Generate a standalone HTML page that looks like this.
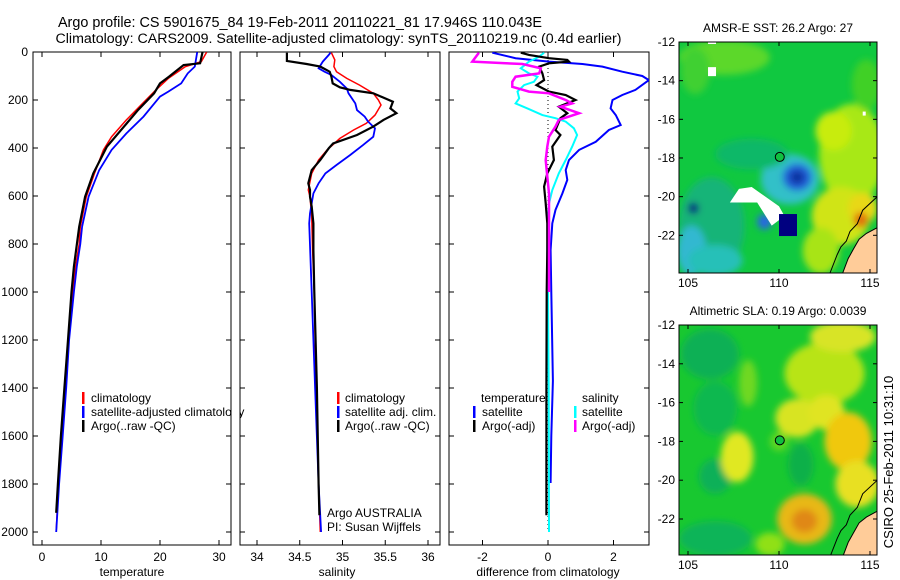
<!DOCTYPE html>
<html><head><meta charset="utf-8"><title>Argo profile</title>
<style>
html,body{margin:0;padding:0;background:#fff;}
svg{display:block;font-family:"Liberation Sans",sans-serif;}
text{fill:#000;}
</style></head>
<body>
<svg id="fig" width="900" height="580" viewBox="0 0 900 580" xmlns="http://www.w3.org/2000/svg">
<defs>
<filter id="blur3" x="-20%" y="-20%" width="140%" height="140%"><feGaussianBlur stdDeviation="3.5"/></filter>
<clipPath id="cp1"><rect x="33" y="52" width="198" height="493"/></clipPath>
<clipPath id="cp2"><rect x="240" y="52" width="200" height="493"/></clipPath>
<clipPath id="cp3"><rect x="449" y="52" width="200" height="493"/></clipPath>
<clipPath id="cpm1"><rect x="679" y="42" width="198" height="231"/></clipPath>
<clipPath id="cpm2"><rect x="679" y="325" width="198" height="230"/></clipPath>
</defs>
<text x="300" y="27" font-size="14.4" text-anchor="middle">Argo profile: CS 5901675_84 19-Feb-2011 20110221_81 17.946S 110.043E</text>
<text x="338.5" y="43" font-size="14.2" text-anchor="middle">Climatology: CARS2009. Satellite-adjusted climatology: synTS_20110219.nc (0.4d earlier)</text>
<g id="layer"></g>
<text transform="translate(893,462) rotate(-90)" font-size="13" text-anchor="middle">CSIRO 25-Feb-2011 10:31:10</text>
</svg>
<script>
// ---------- data ----------
const depthTicks=[0,200,400,600,800,1000,1200,1400,1600,1800,2000];
const tempTicks=[0,10,20,30];
const salTicks=[34,34.5,35,35.5,36];
const diffTicks=[-2,0,2];
// temperature panel
const tClimDepth=[1,40,61,110,158,228,283,353,408,506,603,728,800,894,1000,1200,1400,1600,1800,2000];
const tClimVal=[27.9,27.0,24.3,21.4,19.3,16.5,14.3,11.8,10.4,8.9,7.5,6.5,6.3,5.7,5.2,4.5,4.0,3.4,2.8,2.4];
const tSatDepth=[1,61,89,131,165,186,269,339,408,492,603,728,800,894,1000,1200,1400,1600,1800,2000];
const tSatVal=[26.3,25.9,24.7,23.6,21.4,20.0,17.2,14.3,11.8,9.7,7.9,6.8,6.5,5.9,5.4,4.6,4.1,3.5,2.9,2.4];
const tArgoDepth=[1,47,54,103,131,172,241,311,394,506,603,728,894,1000,1200,1400,1600,1800,1920];
const tArgoVal=[27.2,26.8,24.0,21.5,20.0,19.0,16.3,13.9,11.0,8.7,7.3,6.3,5.4,5.0,4.4,3.8,3.2,2.7,2.4];
// salinity panel
const sClimDepth=[3,33,61,82,110,138,172,200,221,263,297,325,360,408,450,506,575,603,686,825,1000,1400,1800,2000];
const sClimVal=[34.87,34.91,34.90,34.93,35.05,35.20,35.36,35.42,35.45,35.38,35.28,35.13,34.97,34.82,34.72,34.64,34.60,34.62,34.64,34.65,34.67,34.69,34.72,34.74];
const sSatDepth=[3,12,40,68,82,96,124,152,172,214,242,269,290,318,353,388,429,471,506,547,589,672,714,1000,1400,1800,2000];
const sSatVal=[34.86,34.84,34.77,34.72,34.79,34.87,34.97,35.05,35.07,35.15,35.17,35.26,35.30,35.38,35.36,35.24,35.09,34.93,34.80,34.72,34.66,34.62,34.61,34.64,34.68,34.72,34.75];
const sArgoDepth=[3,37,50,61,82,103,131,147,158,172,207,235,255,283,311,346,381,401,450,492,547,575,603,644,714,825,1000,1400,1800,1930];
const sArgoVal=[34.35,34.35,34.58,34.74,34.85,34.87,34.885,34.97,35.09,35.36,35.59,35.56,35.63,35.48,35.36,35.17,34.89,34.84,34.74,34.64,34.60,34.62,34.62,34.64,34.66,34.66,34.67,34.70,34.72,34.73];
// difference panel
const dTSatDepth=[3,26,40,50,61,82,100,117,158,179,200,235,263,304,325,374,408,450,492,533,589,658,714,825,1000,1370,1600,1796];
const dTSatVal=[-1.70,-0.99,0.03,1.05,1.66,2.27,2.88,3.08,2.67,2.27,1.97,1.91,2.07,2.22,1.86,1.46,0.95,0.64,0.54,0.59,0.44,0.23,0.13,0.08,0.10,0.15,0.10,0.08];
const dTArgoDepth=[3,12,26,33,40,47,61,89,117,138,165,179,200,228,255,276,325,346,394,450,506,561,631,714,825,1000,1400,1930];
const dTArgoVal=[-0.83,-0.58,0.03,0.59,0.64,0.03,-0.27,-0.17,-0.12,-0.35,0.03,0.54,0.84,0.33,0.59,0.38,0.23,0.38,0.13,0.18,-0.02,-0.12,-0.07,-0.02,-0.02,-0.04,-0.05,-0.05];
const dSSatDepth=[3,19,40,68,89,103,124,138,165,193,214,235,263,276,290,318,346,394,450,506,575,631,714,825,1000,1400,2000];
const dSSatVal=[-0.12,-0.27,-0.58,-0.83,-0.58,-0.32,-0.43,-0.73,-0.93,-0.88,-0.99,-0.63,-0.17,0.23,0.54,0.79,0.89,0.74,0.54,0.33,0.13,0.03,0.00,-0.02,0.00,0.02,0.03];
const dSArgoDepth=[3,40,47,50,68,89,103,124,145,165,172,200,214,228,255,283,311,353,394,450,519,589,714,825,1000];
const dSArgoVal=[-2.11,-2.31,-1.29,-0.78,-0.22,-0.27,-0.99,-1.09,-1.09,-0.58,0.03,0.54,0.74,0.38,0.95,0.33,0.23,0.03,-0.02,-0.07,-0.02,0.03,0.03,0.03,0.03];
// maps
const lonTicks=[105,110,115];
const latTicks=[12,14,16,18,20,22];
const sstBlobs=[ // lon, lat(S), rxDeg, ryDeg, color
 [107,12.8,2.5,0.9,"#5cd82a"],[105.4,13.5,0.8,1.2,"#40d030"],
 [114.0,17.8,1.8,2.6,"#a8e812"],[113.0,16.6,1.0,1.0,"#c8ec10"],[114.8,14.2,0.8,1.3,"#40d028"],
 [113.4,21.0,1.6,1.5,"#d0e418"],[112.3,22.8,1.0,1.2,"#a8e414"],[114.6,20.6,0.8,0.8,"#e8d818"],
 [114.5,21.2,0.4,0.4,"#e07010"],
 [106.3,21.5,1.8,2.5,"#18b478"],[105.2,22.8,0.8,1.3,"#30b8d0"],[106.5,23.3,1.5,0.8,"#28c0b8"],
 [110.6,19.1,1.6,1.3,"#30c0c8"],[111.0,19.0,0.8,0.7,"#2060d8"],[111.0,19.0,0.4,0.35,"#1030a0"],
 [108.5,17.8,2.0,0.8,"#10b868"],[109.2,21.3,0.4,0.4,"#2868e0"],[105.3,20.6,0.3,0.3,"#102080"]];
const slaBlobs=[
 [106.2,13.5,1.6,1.3,"#10b055"],[106.5,16.3,1.2,1.4,"#10b850"],[106.5,19.8,0.9,0.9,"#10b058"],
 [106.5,23.0,2.0,0.9,"#10b458"],[111.2,19.2,0.7,1.1,"#10b048"],
 [112.5,14.5,2.2,1.6,"#b8e418"],[113.5,12.6,1.8,0.8,"#d8e428"],[111.0,16.8,1.2,1.0,"#d8e424"],
 [107.7,18.8,0.9,1.3,"#e0e820"],[112.6,16.5,1.0,0.9,"#e0e420"],[113.8,18.0,1.3,1.5,"#f0c810"],
 [114.3,20.2,1.2,1.2,"#e8e020"],[111.4,22.0,1.5,1.3,"#e8b818"],
 [111.4,22.1,0.7,0.6,"#e08818"],[109.5,23.3,0.8,0.6,"#90e018"],[108.3,15.0,0.5,1.2,"#70d820"],
 [110.0,18.0,0.5,0.5,"#60d820"]];
const sstWhite=[[107.8,19.6],[108.5,19.5],[110.0,20.5],[110.3,21.0],[109.6,21.5],[108.8,20.3],[107.3,20.3]];
const coastLat=[20.0,20.7,21.4,21.8,22.3,22.6,23.0,23.95];
const coastLon=[115.4,114.6,114.3,113.9,113.7,113.4,113.2,112.8];
const landLat=[21.6,21.9,22.2,22.7,23.2,23.95];
const landLon=[115.4,114.8,114.4,114.1,113.8,113.5];

// ---------- helpers ----------
const NS="http://www.w3.org/2000/svg";
const layer=document.getElementById('layer');
function mk(tag,attrs,parent){const e=document.createElementNS(NS,tag);for(const k in attrs)e.setAttribute(k,attrs[k]);(parent||layer).appendChild(e);return e;}
const yD=d=>52+0.24*d;
const xT=t=>42+5.9*t;
const xS=s=>257+85.5*(s-34);
const xDf=v=>548+32.75*v;

function axesBox(x0,x1,name){
  const r=mk('rect',{x:x0,y:52,width:x1-x0,height:493,fill:'none',stroke:'#000','stroke-width':1});
  
  
  depthTicks.forEach(d=>{
    mk('line',{x1:x0,x2:x0+5,y1:yD(d),y2:yD(d),stroke:'#000'});
    mk('line',{x1:x1,x2:x1-5,y1:yD(d),y2:yD(d),stroke:'#000'});
  });
}
function xTicks(vals,fx,name){
  vals.forEach(v=>{
    const x=fx(v);
    mk('line',{x1:x,x2:x,y1:545,y2:540,stroke:'#000'});
    mk('line',{x1:x,x2:x,y1:52,y2:57,stroke:'#000'});
    const t=mk('text',{x:x,y:561,'font-size':12,'text-anchor':'middle'});
    t.textContent=String(v);
    
    
  });
}
function series(xs,ds,fx,color,w,clip,name){
  const pts=xs.map((v,i)=>fx(v).toFixed(1)+','+yD(ds[i]).toFixed(1)).join(' ');
  const p=mk('polyline',{points:pts,fill:'none',stroke:color,'stroke-width':w,'stroke-linejoin':'miter','clip-path':'url(#'+clip+')'});
  
  
}
function label(x,y,txt,name,anchor,size){
  const t=mk('text',{x:x,y:y,'font-size':size||12,'text-anchor':anchor||'start'});
  t.textContent=txt;
  
  
  return t;
}
function legBar(x,y,color,name){
  const r=mk('rect',{x:x,y:y-10,width:2.5,height:12,fill:color});
  
  
}

// ---------- panel 1: temperature ----------
axesBox(33,231,'temperature-axes');
depthTicks.forEach(d=>{
  const t=mk('text',{x:28,y:yD(d)+4,'font-size':12,'text-anchor':'end'});
  t.textContent=String(d);
  
  
});
xTicks(tempTicks,xT,'temperature');
label(132,576,'temperature','temperature-axis-title','middle');
series(tClimVal,tClimDepth,xT,'#ff0000',1.5,'cp1','temp-climatology-line');
series(tSatVal,tSatDepth,xT,'#0000ff',1.8,'cp1','temp-satellite-line');
series(tArgoVal,tArgoDepth,xT,'#000000',2.2,'cp1','temp-argo-line');
legBar(82,402,'#ff0000','legend-climatology-swatch');
label(91,402,'climatology','legend-climatology');
legBar(82,416,'#0000ff','legend-satellite-swatch');
label(91,416,'satellite-adjusted climatology','legend-satellite-adjusted');
legBar(82,430,'#000000','legend-argo-swatch');
label(91,430,'Argo(..raw -QC)','legend-argo');

// ---------- panel 2: salinity ----------
mk('rect',{x:232,y:380,width:7.5,height:50,fill:'#fff'});
axesBox(240,440,'salinity-axes');
xTicks(salTicks,xS,'salinity');
label(337,576,'salinity','salinity-axis-title','middle');
series(sClimVal,sClimDepth,xS,'#ff0000',1.5,'cp2','sal-climatology-line');
series(sSatVal,sSatDepth,xS,'#0000ff',1.8,'cp2','sal-satellite-line');
series(sArgoVal,sArgoDepth,xS,'#000000',2.2,'cp2','sal-argo-line');
legBar(337,402,'#ff0000','legend-sal-climatology-swatch');
label(345,402,'climatology','legend-sal-climatology');
legBar(337,416,'#0000ff','legend-sal-satellite-swatch');
label(345,416,'satellite adj. clim.','legend-sal-satellite');
legBar(337,430,'#000000','legend-sal-argo-swatch');
label(345,430,'Argo(..raw -QC)','legend-sal-argo');
label(327,517,'Argo AUSTRALIA','argo-australia-label');
label(327,531,'PI: Susan Wijffels','pi-name-label');

// ---------- panel 3: difference ----------
axesBox(449,649,'difference-axes');
xTicks(diffTicks,xDf,'difference');
label(548,576,'difference from climatology','difference-axis-title','middle');
const z=mk('line',{x1:xDf(0),x2:xDf(0),y1:yD(0),y2:yD(2000),stroke:'#000','stroke-width':1,'stroke-dasharray':'1,3'});


series(dTSatVal,dTSatDepth,xDf,'#0000ff',2,'cp3','diff-temp-satellite-line');
series(dSSatVal,dSSatDepth,xDf,'#00ffff',2,'cp3','diff-sal-satellite-line');
series(dTArgoVal,dTArgoDepth,xDf,'#000000',2.2,'cp3','diff-temp-argo-line');
series(dSArgoVal,dSArgoDepth,xDf,'#ff00ff',2.5,'cp3','diff-sal-argo-line');
label(481,402,'temperature','legend-temperature-heading');
legBar(473,416,'#0000ff','legend-temp-satellite-swatch');
label(482,416,'satellite','legend-temp-satellite');
legBar(473,430,'#000000','legend-temp-argo-swatch');
label(482,430,'Argo(-adj)','legend-temp-argo');
label(582,402,'salinity','legend-salinity-heading');
legBar(574,416,'#00ffff','legend-sal-sat-swatch');
label(582,416,'satellite','legend-sal-sat');
legBar(574,430,'#ff00ff','legend-sal-argo-adj-swatch');
label(582,430,'Argo(-adj)','legend-sal-argo-adj');

// ---------- maps ----------
const mx=lon=>688+(lon-105)*18.2;
function drawMap(top,ky,bottom,base,blobs,clip,name,title,extra){
  const my=lat=>top+(lat-12)*ky;
  const g=mk('g',{'clip-path':'url(#'+clip+')'});
  
  
  mk('rect',{x:679,y:top,width:198,height:bottom-top,fill:base},g);
  const bg=mk('g',{filter:'url(#blur3)'},g);
  blobs.forEach(b=>{
    const e=mk('ellipse',{cx:mx(b[0]),cy:my(b[1]),rx:b[2]*18.2,ry:b[3]*ky,fill:b[4]},bg);
    
    
  });
  if(extra)extra(g,my);
  // land (peach) east of inner coastline
  const lpts=landLon.map((lo,i)=>mx(lo).toFixed(1)+','+my(landLat[i]).toFixed(1));
  const land=mk('polygon',{points:lpts.join(' ')+' '+mx(115.6)+','+my(24.2)+' '+mx(115.6)+','+my(21.6),fill:'#ffcc99',stroke:'none'},g);
  
  
  mk('polyline',{points:lpts.join(' '),fill:'none',stroke:'#000','stroke-width':1},g);
  const cpts=coastLon.map((lo,i)=>mx(lo).toFixed(1)+','+my(coastLat[i]).toFixed(1));
  mk('polyline',{points:cpts.join(' '),fill:'none',stroke:'#000','stroke-width':1},g);
  const c=mk('circle',{cx:mx(110.043),cy:my(17.946),r:4.5,fill:'#10c040',stroke:'#000','stroke-width':1});
  
  
  mk('rect',{x:679,y:top,width:198,height:bottom-top,fill:'none',stroke:'#000'});
  latTicks.forEach(l=>{
    mk('line',{x1:679,x2:683,y1:my(l),y2:my(l),stroke:'#000'});
    mk('line',{x1:877,x2:873,y1:my(l),y2:my(l),stroke:'#000'});
    label(675,my(l)+4,'-'+l,'map-lat-tick-label','end');
  });
  lonTicks.forEach(l=>{
    mk('line',{x1:mx(l),x2:mx(l),y1:bottom,y2:bottom-4,stroke:'#000'});
    mk('line',{x1:mx(l),x2:mx(l),y1:top,y2:top+4,stroke:'#000'});
    label(mx(l),bottom+14,String(l),'map-lon-tick-label','middle');
  });
  label(778,top-10,title,name+'-title','middle');
}
drawMap(42,19.33,273,'#10c840',sstBlobs,'cpm1','sst-map','AMSR-E SST: 26.2 Argo: 27',(g,my)=>{
  const w=mk('polygon',{points:sstWhite.map(p=>mx(p[0])+','+my(p[1])).join(' '),fill:'#fff'},g);
  
  
  mk('rect',{x:mx(110),y:my(20.9),width:18,height:22,fill:'#000080'},g);
  mk('rect',{x:mx(106.1),y:my(13.3),width:8,height:9,fill:'#fff'},g);
  mk('rect',{x:mx(106.1),y:my(12),width:8,height:2,fill:'#fff'},g);
  mk('rect',{x:mx(114.6),y:my(15.6),width:3,height:4,fill:'#fff'},g);
});
drawMap(325,19.4,555,'#18c830',slaBlobs,'cpm2','sla-map','Altimetric SLA: 0.19 Argo: 0.0039');
</script>
</body></html>
